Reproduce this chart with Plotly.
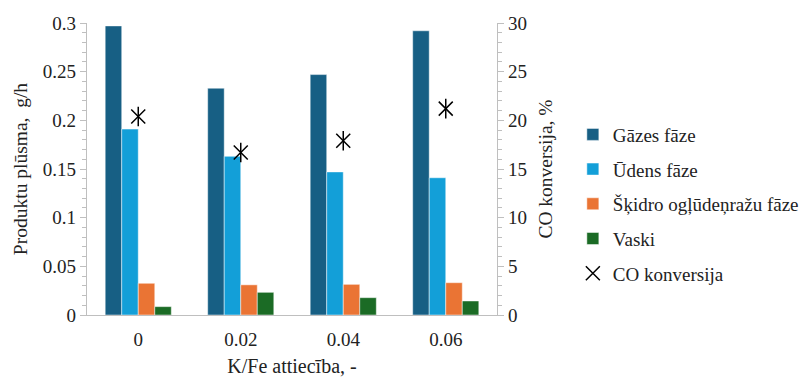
import plotly.graph_objects as go

categories = ["0", "0.02", "0.04", "0.06"]
gazes = [0.297, 0.233, 0.247, 0.292]
udens = [0.191, 0.163, 0.147, 0.141]
skidro = [0.0326, 0.031, 0.0315, 0.0332]
vaski = [0.0086, 0.0233, 0.0178, 0.0144]
co_konv = [20.4, 16.7, 17.9, 21.2]

series_names = ["Gāzes fāze", "Ūdens fāze", "Šķidro ogļūdeņražu fāze", "Vaski"]
series_vals = [gazes, udens, skidro, vaski]
colors = ["#175F84", "#139FD8", "#EA7434", "#1B6B25"]

FONT = "Liberation Serif"
fig = go.Figure()
for i, (n, v, c) in enumerate(zip(series_names, series_vals, colors)):
    fig.add_trace(go.Bar(x=categories, y=v, name=n, marker=dict(color=c, line=dict(color="rgba(255,255,255,0.6)", width=0.8)),
                         legendgroup=f"g{i}"))

fig.add_trace(go.Scatter(x=categories, y=co_konv, name="CO konversija", mode="markers", yaxis="y2",
                         marker=dict(symbol="x-thin-open", size=14, line=dict(color="black", width=1.5), color="black"),
                         legendgroup="co"))
fig.add_trace(go.Scatter(x=categories, y=co_konv, name="CO konversija", mode="markers", yaxis="y2",
                         marker=dict(symbol="line-ns-open", size=14, line=dict(color="black", width=1.5), color="black"),
                         legendgroup="co", showlegend=False))

axis_gray = "#BFBFBF"
tf = dict(family=FONT, size=19, color="#222222")
lf = dict(family=FONT, size=19, color="#222222")
ytf = dict(family=FONT, size=19.5, color="#222222")
xtf = dict(family=FONT, size=20, color="#222222")
fig.update_layout(
    width=805, height=377,
    margin=dict(l=87, r=308, t=23, b=62, autoexpand=False),
    paper_bgcolor="white", plot_bgcolor="white",
    font=dict(family=FONT, size=19, color="#222222"),
    barmode="group", bargap=0.355, bargroupgap=0,
    showlegend=True,
    legend=dict(x=1.185, y=0.38, xanchor="left", yanchor="middle", traceorder="grouped",
                tracegroupgap=7, font=lf, itemwidth=30,
                bgcolor="rgba(0,0,0,0)"),
    xaxis=dict(showline=True, linecolor=axis_gray, linewidth=1.3, ticks="", showgrid=False, automargin=False,
               title=dict(text="K/Fe attiecība, -", font=xtf, standoff=13),
               tickfont=tf, ticklabelstandoff=7),
    yaxis=dict(range=[0, 0.3], dtick=0.05, showline=True, linecolor=axis_gray, linewidth=1.3, automargin=False,
               ticks="outside", tickcolor=axis_gray, ticklen=6, showgrid=False, zeroline=False,
               minor=dict(dtick=0.01, ticks="outside", ticklen=4, tickcolor=axis_gray),
               title=dict(text="Produktu plūsma,  g/h", font=ytf, standoff=9),
               tickfont=tf),
    yaxis2=dict(range=[0, 30], dtick=5, overlaying="y", side="right", showline=True, linecolor=axis_gray,
                linewidth=1.3, ticks="outside", tickcolor=axis_gray, ticklen=6, showgrid=False, zeroline=False,
                automargin=False,
                minor=dict(dtick=1, ticks="outside", ticklen=4, tickcolor=axis_gray),
                title=dict(text="CO konversija, %", font=ytf, standoff=12),
                tickfont=tf),
)

fig.write_html("out.html")
